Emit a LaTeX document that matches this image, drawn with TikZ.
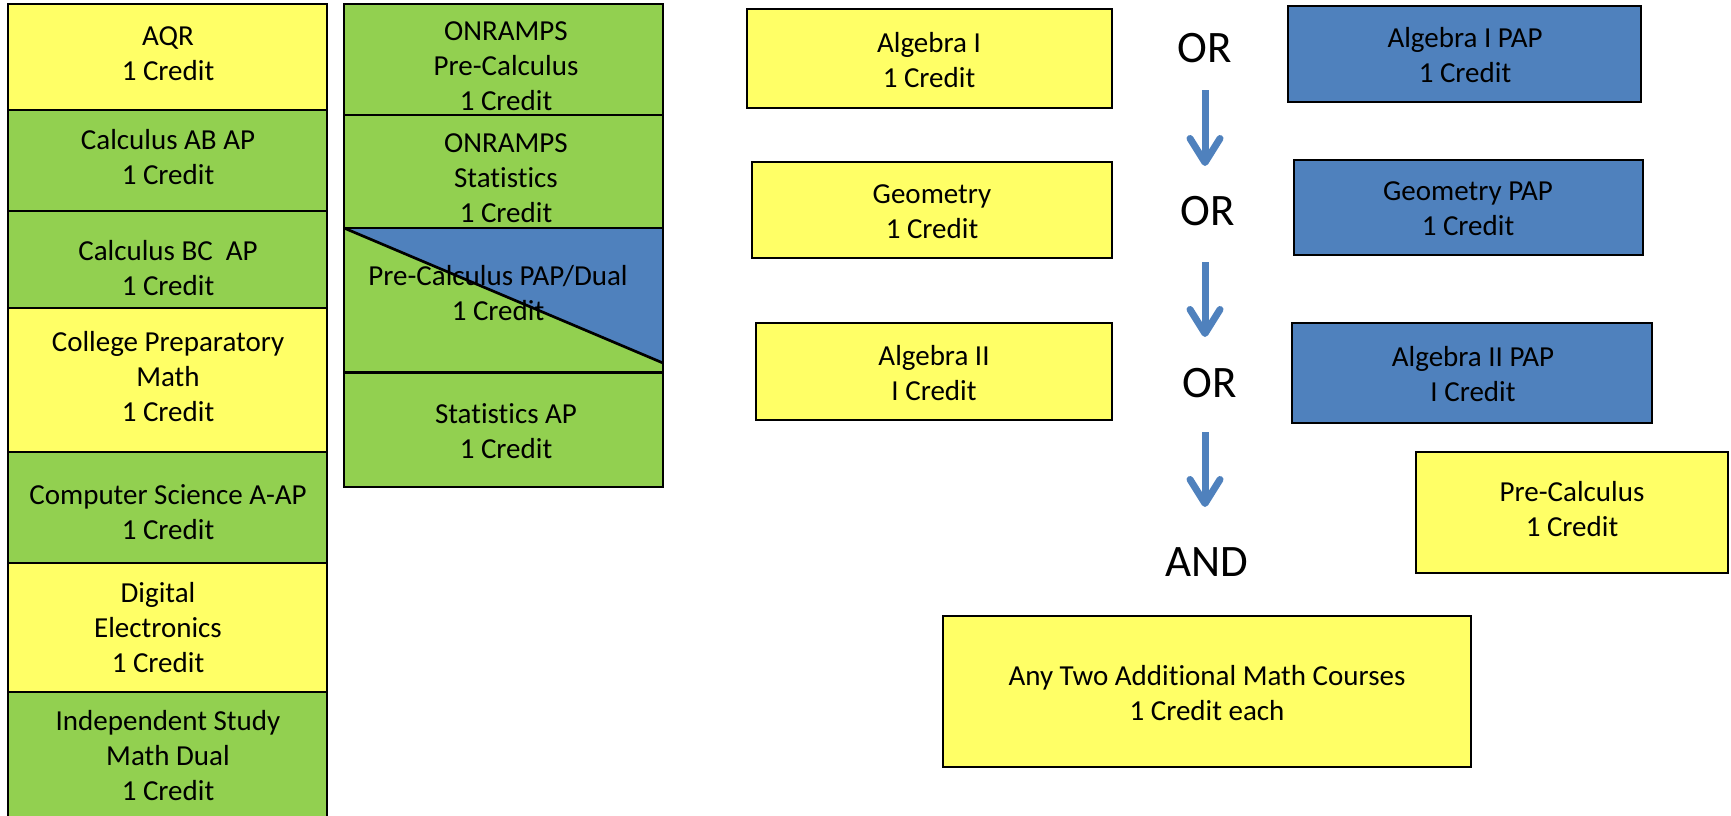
\documentclass[tikz,border=0pt]{standalone}
\usepackage{fontspec}
\setmainfont[Ligatures=NoCommon]{Carlito}
\usetikzlibrary{arrows.meta}
\definecolor{boxyellow}{HTML}{FFFF66}
\definecolor{boxgreen}{HTML}{92D050}
\definecolor{boxblue}{HTML}{4F81BD}
\begin{document}
\begin{tikzpicture}[x=1pt,y=-1pt,
  box/.style={draw=black, line width=2.7pt, anchor=north west, inner sep=0pt, outer sep=0pt},
  lbl/.style={align=center, inner sep=0pt, font=\fontsize{29}{35}\selectfont},
  conj/.style={inner sep=0pt, outer sep=0pt, anchor=base, text height=30pt, text depth=0pt, font=\fontsize{45}{54}\selectfont},
  flow/.style={draw=boxblue, line width=7pt, -{Straight Barb[length=24pt,width=30pt,round]}}]
\useasboundingbox (0,0) rectangle (1731,816);
\clip (0,0) rectangle (1731,816);
% left column
\node[box, fill=boxyellow, minimum width=319pt, minimum height=106pt] (aqr) at (8,4) {};
\node[box, fill=boxgreen, minimum width=319pt, minimum height=101pt] (calcab) at (8,110) {};
\node[box, fill=boxgreen, minimum width=319pt, minimum height=97pt] (calcbc) at (8,211) {};
\node[box, fill=boxyellow, minimum width=319pt, minimum height=144pt] (cpm) at (8,308) {};
\node[box, fill=boxgreen, minimum width=319pt, minimum height=111pt] (csa) at (8,452) {};
\node[box, fill=boxyellow, minimum width=319pt, minimum height=129pt] (dig) at (8,563) {};
\node[box, fill=boxgreen, minimum width=319pt, minimum height=140pt] (ind) at (8,692) {};
% second column
\node[box, fill=boxgreen, minimum width=319pt, minimum height=111pt] (onpc) at (344,4) {};
\node[box, fill=boxgreen, minimum width=319pt, minimum height=113pt] (onst) at (344,115) {};
\node[box, fill=boxgreen, minimum width=319pt, minimum height=144pt] (pap) at (344,228) {};
\node[box, fill=boxgreen, minimum width=319pt, minimum height=114pt] (stap) at (344,373) {};
\coordinate (diagend) at (663,363);
\fill[boxblue] (pap.north west) -- (pap.north east) -- (diagend) -- cycle;
\draw[line width=2.7pt] (pap.north west) -- (diagend);
\draw[line width=2.7pt] (pap.north west) rectangle (pap.south east);
% right side
\node[box, fill=boxyellow, minimum width=365pt, minimum height=99pt] (alg1) at (747,9) {};
\node[box, fill=boxblue, minimum width=353pt, minimum height=96pt] (alg1p) at (1288,6) {};
\node[box, fill=boxyellow, minimum width=360pt, minimum height=96pt] (geo) at (752,162) {};
\node[box, fill=boxblue, minimum width=349pt, minimum height=95pt] (geop) at (1294,160) {};
\node[box, fill=boxyellow, minimum width=356pt, minimum height=97pt] (alg2) at (756,323) {};
\node[box, fill=boxblue, minimum width=360pt, minimum height=100pt] (alg2p) at (1292,323) {};
\node[box, fill=boxyellow, minimum width=312pt, minimum height=121pt] (prec) at (1416,452) {};
\node[box, fill=boxyellow, minimum width=528pt, minimum height=151pt] (anytwo) at (943,616) {};
% labels
\node[lbl] (aqrT) at (168,53.5) {AQR\\1 Credit};
\node[lbl] (calcabT) at (168,157.5) {Calculus AB AP\\1 Credit};
\node[lbl] (calcbcT) at (168,268) {Calculus BC\ \ AP\\1 Credit};
\node[lbl] (cpmT) at (168,377) {College Preparatory\\Math\\1 Credit};
\node[lbl] (csaT) at (168,512.5) {Computer Science A-AP\\1 Credit};
\node[lbl] (digT) at (158,627.5) {Digital\\Electronics\\1 Credit};
\node[lbl] (indT) at (168,756) {Independent Study\\Math Dual\\1 Credit};
\node[lbl] (onpcT) at (506,66.5) {ONRAMPS\\Pre-Calculus\\1 Credit};
\node[lbl] (onstT) at (506,178) {ONRAMPS\\Statistics\\1 Credit};
\node[lbl] (papT) at (498,293.5) {Pre-Calculus PAP/Dual\\1 Credit};
\node[lbl] (stapT) at (506,431.5) {Statistics AP\\1 Credit};
\node[lbl] (alg1T) at (929,60) {Algebra I\\1 Credit};
\node[lbl] (alg1pT) at (1465,55) {Algebra I PAP\\1 Credit};
\node[lbl] (geoT) at (932,212) {Geometry\\1 Credit};
\node[lbl] (geopT) at (1468,209) {Geometry PAP\\1 Credit};
\node[lbl] (alg2T) at (934,373.5) {Algebra II\\I Credit};
\node[lbl] (alg2pT) at (1473,374.5) {Algebra II PAP\\I Credit};
\node[lbl] (precT) at (1572,509.5) {Pre-Calculus\\1 Credit};
\node[lbl] (anytwoT) at (1207,693) {Any Two Additional Math Courses\\1 Credit each};
% conjunctions
\node[conj] (or1) at (1205,63) {OR};
\node[conj] (or2) at (1208,225) {OR};
\node[conj] (or3) at (1210,397) {OR};
\node[conj] (and) at (1207,576) {AND};
% arrows
\begin{scope}[xshift=-2pt]
\draw[flow, shorten <=27pt, shorten >=29pt] (or1.south) -- (or1.south |- or2.north);
\draw[flow, shorten <=37pt, shorten >=30pt] (or1.south |- or2.south) -- (or1.south |- or3.north);
\draw[flow, shorten <=35pt, shorten >=39pt] (or1.south |- or3.south) -- (or1.south |- and.north);
\end{scope}
\end{tikzpicture}
\end{document}
